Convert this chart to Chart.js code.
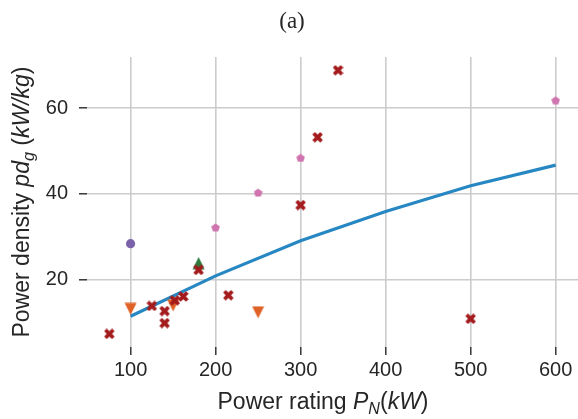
<!DOCTYPE html>
<html>
<head>
<meta charset="utf-8">
<script src="https://cdn.jsdelivr.net/npm/chart.js@4/dist/chart.umd.min.js"></script>
<style>
  html, body { margin: 0; padding: 0; background: #ffffff; }
  #c { display: block; }
</style>
</head>
<body>
<canvas id="c" width="578" height="419"></canvas>
<script>
// ---------- data ----------
const fitX = [100, 200, 300, 400, 500, 600];
const fitY = [11.5, 20.9, 29.1, 35.9, 41.9, 46.7];

const redX = [75, 125, 140, 140, 152, 162, 180, 215, 300, 320, 344, 500];
const redY = [7.4, 13.9, 12.7, 9.9, 15.2, 16.1, 22.3, 16.4, 37.4, 53.2, 68.8, 10.9];

const pinkX = [200, 250, 300, 600];
const pinkY = [32.2, 40.3, 48.4, 61.8];

const purpleX = [100];
const purpleY = [28.4];

const greenX = [180];
const greenY = [23.9];

const orangeX = [100, 150, 250];
const orangeY = [13.2, 14.0, 12.4];

const xTickVals = [100, 200, 300, 400, 500, 600];
const yTickVals = [20, 40, 60];

const titleText = '(a)';

// ---------- helpers ----------
function pts(xs, ys) { return xs.map((x, i) => ({ x: x, y: ys[i] })); }

function markerCanvas(size, color, drawFn) {
  const c = document.createElement('canvas');
  c.width = size; c.height = size;
  const g = c.getContext('2d');
  g.translate(size / 2, size / 2);
  g.fillStyle = color;
  drawFn(g, size);
  return c;
}
function filledX(size, color) {
  return markerCanvas(size, color, (g, s) => {
    g.rotate(Math.PI / 4);
    const u = s / 6 * 1.02;
    const v = [[-1,-3],[-1,-1],[-3,-1],[-3,1],[-1,1],[-1,3],[1,3],[1,1],[3,1],[3,-1],[1,-1],[1,-3]];
    g.beginPath();
    v.forEach((p, i) => { const px = p[0] * u, py = p[1] * u; i ? g.lineTo(px, py) : g.moveTo(px, py); });
    g.closePath(); g.fill();
  });
}
function pentagon(size, color) {
  return markerCanvas(size, color, (g, s) => {
    const r = s / 2;
    g.beginPath();
    for (let i = 0; i < 5; i++) {
      const a = -Math.PI / 2 + i * 2 * Math.PI / 5;
      const px = r * Math.cos(a), py = r * Math.sin(a) + r * 0.1;
      i ? g.lineTo(px, py) : g.moveTo(px, py);
    }
    g.closePath(); g.fill();
  });
}
function triangle(size, color, down) {
  return markerCanvas(size, color, (g, s) => {
    const h = s / 2 - 0.5;
    const d = down ? -1 : 1;
    g.beginPath();
    g.moveTo(0, -h * d);
    g.lineTo(-h, h * d);
    g.lineTo(h, h * d);
    g.closePath(); g.fill();
  });
}

const RED = '#a31b1d';
const PINK = '#cf74ae';
const PURPLE = '#7b62ab';
const GREEN = '#2e7a3c';
const ORANGE = '#df6126';
const BLUE = '#2687c3';
const TEXT = '#262626';
const SANS = '"Liberation Sans", Arial, sans-serif';

const imgRed = filledX(11, RED);
const imgPink = pentagon(9, PINK);
const imgGreen = triangle(13, GREEN, false);
const imgOrange = triangle(13, ORANGE, true);

// rich-text labels (mixed italic / subscript)
function drawRich(ctx, segs, cx, cy, size) {
  const fontOf = s => (s.it ? 'italic ' : '') + (s.sub ? size * 0.7 : size) + 'px ' + SANS;
  let w = 0;
  segs.forEach(s => { ctx.font = fontOf(s); s.w = ctx.measureText(s.t).width; w += s.w; });
  let x = cx - w / 2;
  ctx.textBaseline = 'alphabetic';
  ctx.textAlign = 'left';
  segs.forEach(s => {
    ctx.font = fontOf(s);
    ctx.fillText(s.t, x, cy + (s.sub ? size * 0.22 : 0));
    x += s.w;
  });
}

const labelsPlugin = {
  id: 'labels',
  afterDraw(chart) {
    const ctx = chart.ctx;
    ctx.save();
    ctx.fillStyle = TEXT;
    // title
    ctx.font = '23px "Liberation Serif", "DejaVu Serif", serif';
    ctx.textAlign = 'center';
    ctx.textBaseline = 'alphabetic';
    ctx.fillText(titleText, 292, 28);
    // x label
    drawRich(ctx, [
      { t: 'Power rating ' },
      { t: 'P', it: true },
      { t: 'N', it: true, sub: true },
      { t: '(' },
      { t: 'kW', it: true },
      { t: ')' }
    ], 323, 409, 23);
    // y label (rotated)
    ctx.translate(29, 202);
    ctx.rotate(-Math.PI / 2);
    drawRich(ctx, [
      { t: 'Power density ' },
      { t: 'pd', it: true },
      { t: 'g', it: true, sub: true },
      { t: ' (' },
      { t: 'kW/kg', it: true },
      { t: ')' }
    ], 0, 0, 23);
    ctx.restore();
  }
};

new Chart(document.getElementById('c'), {
  type: 'scatter',
  data: {
    datasets: [
      { type: 'line', data: pts(fitX, fitY), borderColor: BLUE, borderWidth: 3.2, pointRadius: 0, tension: 0, fill: false, order: 10 },
      { data: pts(redX, redY), pointStyle: imgRed, pointRadius: 5, order: 1 },
      { data: pts(pinkX, pinkY), pointStyle: imgPink, pointRadius: 4, order: 1 },
      { data: pts(purpleX, purpleY), pointStyle: 'circle', pointRadius: 4.6, backgroundColor: PURPLE, borderWidth: 0, order: 1 },
      { data: pts(greenX, greenY), pointStyle: imgGreen, pointRadius: 5, order: 1 },
      { data: pts(orangeX, orangeY), pointStyle: imgOrange, pointRadius: 5, order: 1 }
    ]
  },
  options: {
    responsive: false,
    animation: false,
    devicePixelRatio: 1,
    layout: { autoPadding: false, padding: { top: 57, left: 0, right: 0, bottom: 0 } },
    plugins: { legend: { display: false }, tooltip: { enabled: false }, title: { display: false } },
    scales: {
      x: {
        type: 'linear',
        min: 48.75, max: 626.25,
        afterBuildTicks: s => { s.ticks = xTickVals.map(v => ({ value: v })); },
        afterFit: s => { s.height = 72; s.paddingLeft = 0; s.paddingRight = 0; },
        border: { display: false },
        grid: { color: '#cccccc', lineWidth: 1.6, tickColor: TEXT, tickWidth: 1.4, tickLength: 8 },
        ticks: { color: TEXT, font: { family: SANS, size: 20 }, padding: 3, maxRotation: 0 }
      },
      y: {
        type: 'linear',
        min: 4.33, max: 71.9,
        afterBuildTicks: s => { s.ticks = yTickVals.map(v => ({ value: v })); },
        afterFit: s => { s.width = 87; s.paddingTop = 0; s.paddingBottom = 0; },
        border: { display: false },
        grid: { color: '#cccccc', lineWidth: 1.6, tickColor: TEXT, tickWidth: 1.4, tickLength: 8 },
        ticks: { color: TEXT, font: { family: SANS, size: 20 }, padding: 11 }
      }
    }
  },
  plugins: [labelsPlugin]
});
</script>
</body>
</html>
